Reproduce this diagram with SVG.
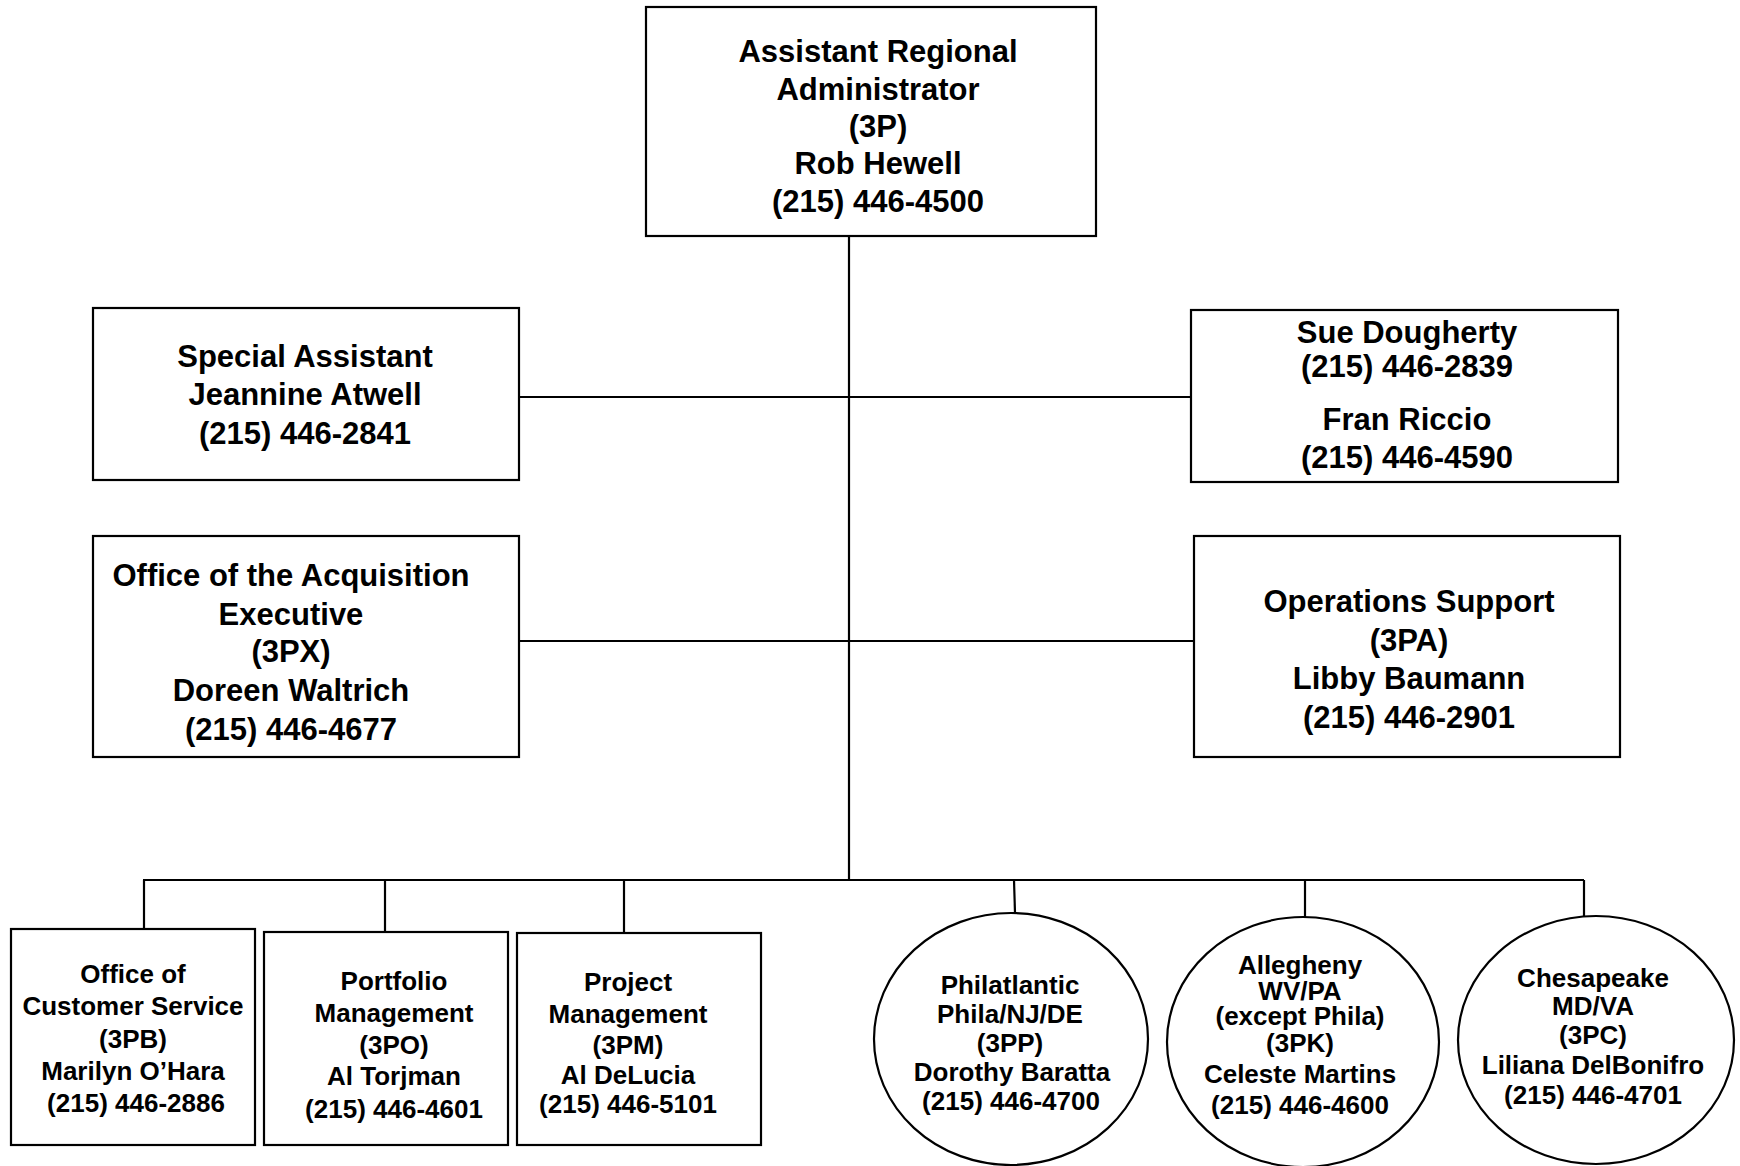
<svg xmlns="http://www.w3.org/2000/svg" width="1740" height="1166" viewBox="0 0 1740 1166">
<style>
  .box { fill: #fff; stroke: #000; stroke-width: 2.2; }
  .line { stroke: #000; stroke-width: 2.2; fill: none; }
  .t { font-family: "Liberation Sans", Arial, sans-serif; font-weight: bold; fill: #000; text-anchor: middle; }
  .big { font-size: 31px; }
  .sm { font-size: 26px; }
</style>
<rect width="1740" height="1166" fill="#fff"/>
<g id="connectors">
  <line class="line" x1="849" y1="236" x2="849" y2="880"/>
  <line class="line" x1="519" y1="397" x2="1194" y2="397"/>
  <line class="line" x1="519" y1="641" x2="1194" y2="641"/>
  <line class="line" x1="143" y1="880" x2="1584" y2="880"/>
  <line class="line" x1="144" y1="880" x2="144" y2="929"/>
  <line class="line" x1="385" y1="880" x2="385" y2="932"/>
  <line class="line" x1="624" y1="880" x2="624" y2="933"/>
  <line class="line" x1="1014" y1="880" x2="1015" y2="913"/>
  <line class="line" x1="1305" y1="880" x2="1305" y2="917"/>
  <line class="line" x1="1584" y1="880" x2="1584" y2="919"/>
</g>
<g id="n-ara">
  <rect class="box" x="646" y="7" width="450" height="229" stroke-width="2.6"/>
  <text class="t big" x="878" y="62">Assistant Regional</text>
  <text class="t big" x="878" y="100">Administrator</text>
  <text class="t big" x="878" y="137">(3P)</text>
  <text class="t big" x="878" y="174">Rob Hewell</text>
  <text class="t big" x="878" y="212">(215) 446-4500</text>
</g>
<g id="n-special">
  <rect class="box" x="93" y="308" width="426" height="172"/>
  <text class="t big" x="305" y="367">Special Assistant</text>
  <text class="t big" x="305" y="405">Jeannine Atwell</text>
  <text class="t big" x="305" y="444">(215) 446-2841</text>
</g>
<g id="n-sue">
  <rect class="box" x="1191" y="310" width="427" height="172"/>
  <text class="t big" x="1407" y="343">Sue Dougherty</text>
  <text class="t big" x="1407" y="377">(215) 446-2839</text>
  <text class="t big" x="1407" y="430">Fran Riccio</text>
  <text class="t big" x="1407" y="468">(215) 446-4590</text>
</g>
<g id="n-acq">
  <rect class="box" x="93" y="536" width="426" height="221"/>
  <text class="t big" x="291" y="586">Office of the Acquisition</text>
  <text class="t big" x="291" y="625">Executive</text>
  <text class="t big" x="291" y="662">(3PX)</text>
  <text class="t big" x="291" y="701">Doreen Waltrich</text>
  <text class="t big" x="291" y="740">(215) 446-4677</text>
</g>
<g id="n-ops">
  <rect class="box" x="1194" y="536" width="426" height="221"/>
  <text class="t big" x="1409" y="612">Operations Support</text>
  <text class="t big" x="1409" y="651">(3PA)</text>
  <text class="t big" x="1409" y="689">Libby Baumann</text>
  <text class="t big" x="1409" y="728">(215) 446-2901</text>
</g>
<g id="n-3pb">
  <rect class="box" x="11" y="929" width="244" height="216"/>
  <text class="t sm" x="133" y="983">Office of</text>
  <text class="t sm" x="133" y="1015">Customer Service</text>
  <text class="t sm" x="133" y="1048">(3PB)</text>
  <text class="t sm" x="133" y="1080">Marilyn O’Hara</text>
  <text class="t sm" x="136" y="1112">(215) 446-2886</text>
</g>
<g id="n-3po">
  <rect class="box" x="264" y="932" width="244" height="213"/>
  <text class="t sm" x="394" y="990">Portfolio</text>
  <text class="t sm" x="394" y="1022">Management</text>
  <text class="t sm" x="394" y="1054">(3PO)</text>
  <text class="t sm" x="394" y="1085">Al Torjman</text>
  <text class="t sm" x="394" y="1118">(215) 446-4601</text>
</g>
<g id="n-3pm">
  <rect class="box" x="517" y="933" width="244" height="212"/>
  <text class="t sm" x="628" y="991">Project</text>
  <text class="t sm" x="628" y="1023">Management</text>
  <text class="t sm" x="628" y="1054">(3PM)</text>
  <text class="t sm" x="628" y="1084">Al DeLucia</text>
  <text class="t sm" x="628" y="1113">(215) 446-5101</text>
</g>
<g id="n-3pp">
  <ellipse class="box" cx="1011" cy="1039" rx="137" ry="126"/>
  <text class="t sm" x="1010" y="994">Philatlantic</text>
  <text class="t sm" x="1010" y="1023">Phila/NJ/DE</text>
  <text class="t sm" x="1010" y="1052">(3PP)</text>
  <text class="t sm" x="1012" y="1081">Dorothy Baratta</text>
  <text class="t sm" x="1011" y="1110">(215) 446-4700</text>
</g>
<g id="n-3pk">
  <ellipse class="box" cx="1303" cy="1042" rx="136" ry="125"/>
  <text class="t sm" x="1300" y="974">Allegheny</text>
  <text class="t sm" x="1300" y="1000">WV/PA</text>
  <text class="t sm" x="1300" y="1025">(except Phila)</text>
  <text class="t sm" x="1300" y="1052">(3PK)</text>
  <text class="t sm" x="1300" y="1083">Celeste Martins</text>
  <text class="t sm" x="1300" y="1114">(215) 446-4600</text>
</g>
<g id="n-3pc">
  <ellipse class="box" cx="1596" cy="1040" rx="138" ry="124"/>
  <text class="t sm" x="1593" y="987">Chesapeake</text>
  <text class="t sm" x="1593" y="1015">MD/VA</text>
  <text class="t sm" x="1593" y="1044">(3PC)</text>
  <text class="t sm" x="1593" y="1074">Liliana DelBonifro</text>
  <text class="t sm" x="1593" y="1104">(215) 446-4701</text>
</g>
</svg>
